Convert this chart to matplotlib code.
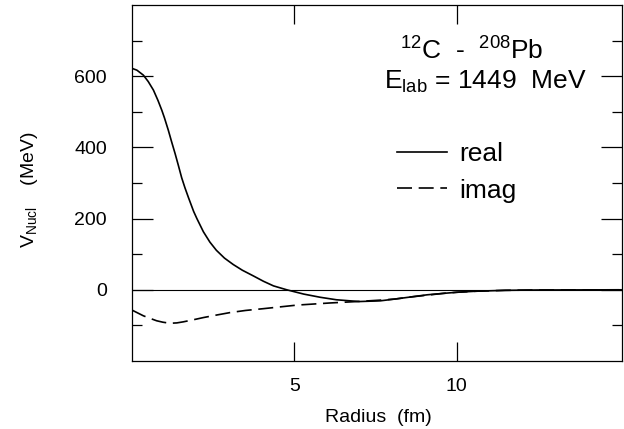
import matplotlib
matplotlib.use("Agg")
import matplotlib.pyplot as plt

plt.rcParams["font.family"] = ["Liberation Sans", "DejaVu Sans"]
plt.rcParams["mathtext.fontset"] = "custom"
plt.rcParams["mathtext.rm"] = "Liberation Sans"
plt.rcParams["mathtext.it"] = "Liberation Sans"

# ── data ──────────────────────────────────────────────────────
r_real = [0, 0.15, 0.35, 0.5, 0.66, 0.8, 0.92, 1.0, 1.12, 1.22, 1.33, 1.43,
          1.53, 1.63, 1.74, 1.9, 2.0, 2.2, 2.4, 2.6, 2.85, 3.12, 3.4,
          3.74, 4.05, 4.36, 4.77, 5.29, 5.8, 6.3, 7.0, 7.65, 8.1, 8.6, 9.1,
          9.6, 10.0, 10.6, 11.5, 12.5, 15.1]
v_real = [622, 617, 603, 585, 561, 532, 504, 483, 448, 416, 382, 349,
          315, 287, 259, 220, 200, 163, 134, 111, 89, 71, 55,
          39, 24, 11, 0, -12, -21, -28, -33, -31, -26, -20, -14,
          -10, -7, -4, -1.5, -0.5, 0]

r_imag = [0, 0.35, 0.55, 0.76, 0.95, 1.17, 1.38, 1.58, 1.85, 2.2, 2.6,
          3.02, 3.5, 4.05, 5.08, 6.1, 6.93, 7.65, 8.1, 8.6, 9.1, 9.6,
          10.0, 10.6, 11.5, 12.5, 15.1]
v_imag = [-57, -73, -80, -87, -91, -94, -93, -90, -85, -78, -71,
          -64, -58, -53, -43, -37, -33, -29, -26, -20, -15, -10,
          -7, -4, -1.5, -0.5, 0]

x_ticks = [5, 10]
y_ticks = [0, 200, 400, 600]
y_minor = [-100, 100, 300, 500, 700]

fig = plt.figure(figsize=(6.24, 4.29), dpi=100)
ax = fig.add_axes([132 / 624, 1 - 361 / 429, 490 / 624, 356 / 429])

ax.axhline(0, color="black", lw=0.8)
ax.plot(r_real, v_real, color="black", lw=1.2, label="real")
ax.plot(r_imag, v_imag, color="black", lw=1.2, ls=(0, (9, 4)), label="imag")

ax.set_xlim(0, 15.1)
ax.set_ylim(-200, 800)
ax.set_xticks(x_ticks)
ax.set_yticks(y_ticks)
ax.set_yticks(y_minor, minor=True)
ax.tick_params(axis="both", which="both", direction="in", width=0.9,
               top=True, right=True, labelsize=14)
ax.tick_params(axis="x", which="major", length=14, pad=12)
ax.tick_params(axis="y", which="major", length=15, pad=18)
ax.tick_params(axis="y", which="minor", length=7)
for sp in ax.spines.values():
    sp.set_linewidth(0.9)

fig.text(378 / 624, 1 - 417 / 429, "Radius  (fm)", ha="center", va="center",
         fontsize=14)
fig.text(30 / 624, 1 - 190 / 429, r"V$_{\mathrm{Nucl}}$    (MeV)",
         ha="center", va="center", rotation=90, fontsize=14)

ax.text((472 - 132) / 490, (361 - 60) / 356,
        r"$^{\mathrm{12}}$C  -  $^{\mathrm{208}}$Pb",
        transform=ax.transAxes, ha="center", va="baseline", fontsize=19)
ax.text((485 - 132) / 490, (361 - 89) / 356,
        r"E$_{\mathrm{lab}}$ = 1449  MeV",
        transform=ax.transAxes, ha="center", va="baseline", fontsize=19)

ax.legend(loc="upper left", bbox_to_anchor=((397 - 132) / 490, (361 - 142) / 356),
          frameon=False, fontsize=19, handlelength=1.9, handletextpad=0.45,
          labelspacing=0.48, borderaxespad=0, borderpad=0)

fig.savefig("out.png", dpi=100)
